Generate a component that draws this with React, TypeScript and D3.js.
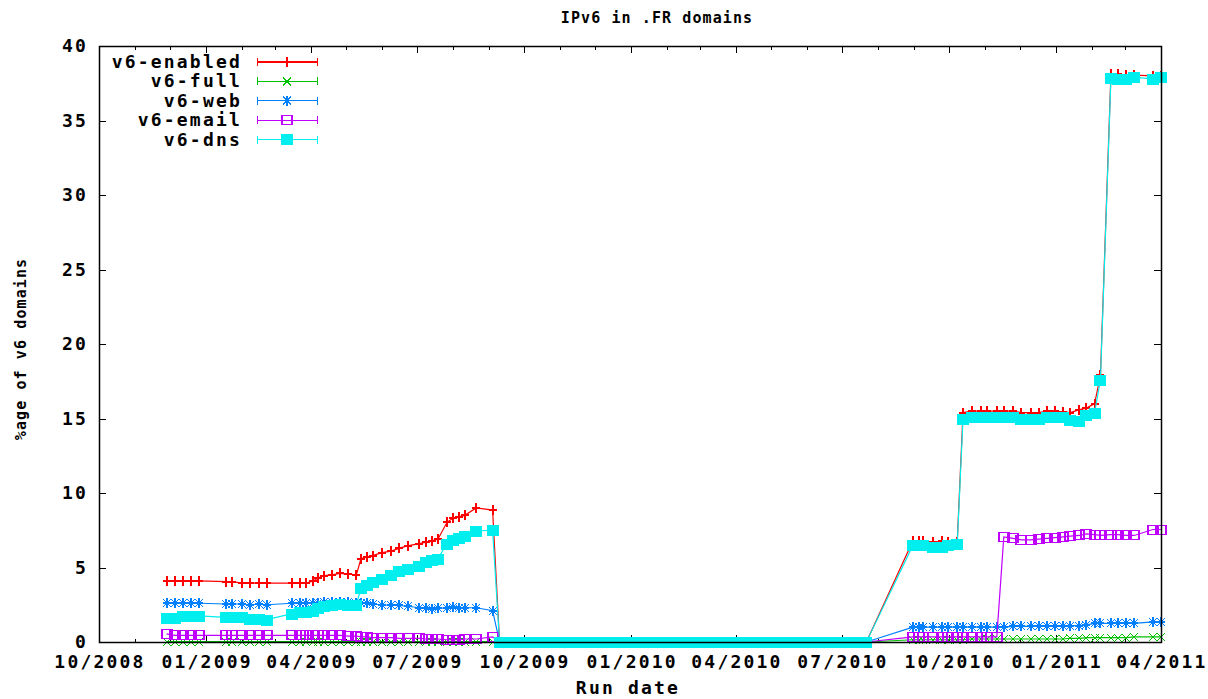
import { useEffect, useRef } from 'react';
import * as d3 from 'd3';

// run dates (one row of the data file per date)
const runDates = [
  '2008-11-28', '2008-12-05', '2008-12-12', '2008-12-19', '2008-12-26',
  '2009-01-18', '2009-01-23', '2009-02-01', '2009-02-08', '2009-02-15', '2009-02-22',
  '2009-03-16', '2009-03-23', '2009-03-28', '2009-04-03', '2009-04-07', '2009-04-12', '2009-04-19', '2009-04-26',
  '2009-05-03', '2009-05-10', '2009-05-14', '2009-05-19', '2009-05-24', '2009-06-01', '2009-06-09', '2009-06-16', '2009-06-23',
  '2009-07-03', '2009-07-09', '2009-07-14', '2009-07-19', '2009-07-27', '2009-08-01', '2009-08-06', '2009-08-11', '2009-08-21', '2009-09-04',
  // broken runs, everything at zero
  '2009-09-10', '2009-09-17', '2009-09-24', '2009-10-01', '2009-10-08', '2009-10-15', '2009-10-22', '2009-10-29',
  '2009-11-05', '2009-11-12', '2009-11-19', '2009-11-26', '2009-12-03', '2009-12-10', '2009-12-17', '2009-12-24', '2009-12-31',
  '2010-01-07', '2010-01-14', '2010-01-21', '2010-01-28', '2010-02-04', '2010-02-11', '2010-02-18', '2010-02-25',
  '2010-03-04', '2010-03-11', '2010-03-18', '2010-03-25', '2010-04-01', '2010-04-08', '2010-04-15', '2010-04-22', '2010-04-29',
  '2010-05-06', '2010-05-13', '2010-05-20', '2010-05-27', '2010-06-03', '2010-06-10', '2010-06-17', '2010-06-24',
  '2010-07-01', '2010-07-08', '2010-07-15', '2010-07-22',
  // second period
  '2010-08-31', '2010-09-05', '2010-09-09', '2010-09-17', '2010-09-25', '2010-09-30', '2010-10-08',
  '2010-10-13', '2010-10-21', '2010-10-28', '2010-11-03', '2010-11-11', '2010-11-17', '2010-11-25',
  '2010-12-02', '2010-12-10', '2010-12-17', '2010-12-24', '2010-12-31',
  '2011-01-07', '2011-01-13', '2011-01-21', '2011-01-27', '2011-02-03', '2011-02-08', '2011-02-17', '2011-02-23',
  '2011-03-02', '2011-03-09', '2011-03-25', '2011-04-01',
];

const v6Enabled = [
  4.1, 4.1, 4.1, 4.1, 4.1,
  4.05, 4.05, 3.95, 3.95, 3.95, 3.95,
  3.95, 3.95, 3.95, 4.1, 4.3, 4.45, 4.5, 4.6,
  4.55, 4.5, 5.6, 5.7, 5.8, 6.0, 6.1, 6.3, 6.45,
  6.6, 6.7, 6.8, 6.9, 8.05, 8.3, 8.4, 8.5, 9.0, 8.85,
  0, 0, 0, 0, 0, 0, 0, 0,
  0, 0, 0, 0, 0, 0, 0, 0, 0,
  0, 0, 0, 0, 0, 0, 0, 0,
  0, 0, 0, 0, 0, 0, 0, 0, 0,
  0, 0, 0, 0, 0, 0, 0, 0,
  0, 0, 0, 0,
  6.8, 6.8, 6.8, 6.7, 6.75, 6.7, 6.7,
  15.4, 15.5, 15.5, 15.5, 15.5, 15.5, 15.5,
  15.4, 15.4, 15.4, 15.5, 15.5,
  15.45, 15.4, 15.6, 15.7, 16.0, 17.9, 38.1, 38.1,
  38.05, 38.05, 38.0, 38.0,
];

const v6Full = [
  0.03, 0.03, 0.03, 0.03, 0.03,
  0.03, 0.03, 0.03, 0.03, 0.03, 0.03,
  0.03, 0.03, 0.03, 0.03, 0.03, 0.03, 0.03, 0.03,
  0.03, 0.03, 0.03, 0.03, 0.03, 0.03, 0.03, 0.03, 0.03,
  0.03, 0.03, 0.03, 0.03, 0.03, 0.03, 0.03, 0.03, 0.03, 0.03,
  0, 0, 0, 0, 0, 0, 0, 0,
  0, 0, 0, 0, 0, 0, 0, 0, 0,
  0, 0, 0, 0, 0, 0, 0, 0,
  0, 0, 0, 0, 0, 0, 0, 0, 0,
  0, 0, 0, 0, 0, 0, 0, 0,
  0, 0, 0, 0,
  0.15, 0.15, 0.15, 0.15, 0.15, 0.15, 0.15,
  0.15, 0.2, 0.2, 0.2, 0.2, 0.2, 0.2,
  0.2, 0.2, 0.2, 0.2, 0.2,
  0.2, 0.25, 0.25, 0.3, 0.3, 0.3, 0.3, 0.3,
  0.3, 0.35, 0.35, 0.35,
];

const v6Web = [
  2.6, 2.6, 2.6, 2.6, 2.6,
  2.55, 2.55, 2.55, 2.5, 2.55, 2.5,
  2.6, 2.6, 2.6, 2.65, 2.65, 2.7, 2.7, 2.7,
  2.7, 2.65, 2.6, 2.6, 2.55, 2.5, 2.45, 2.45, 2.4,
  2.3, 2.25, 2.2, 2.25, 2.3, 2.35, 2.3, 2.3, 2.3, 2.1,
  0, 0, 0, 0, 0, 0, 0, 0,
  0, 0, 0, 0, 0, 0, 0, 0, 0,
  0, 0, 0, 0, 0, 0, 0, 0,
  0, 0, 0, 0, 0, 0, 0, 0, 0,
  0, 0, 0, 0, 0, 0, 0, 0,
  0, 0, 0, 0,
  1.0, 1.0, 1.0, 1.0, 1.0, 1.0, 1.0,
  1.0, 1.0, 1.0, 1.0, 1.0, 1.0, 1.05,
  1.05, 1.05, 1.05, 1.05, 1.05,
  1.1, 1.1, 1.1, 1.15, 1.25, 1.25, 1.25, 1.25,
  1.25, 1.25, 1.35, 1.35,
];

const v6Email = [
  0.55, 0.45, 0.45, 0.45, 0.45,
  0.45, 0.45, 0.45, 0.45, 0.45, 0.45,
  0.45, 0.45, 0.45, 0.45, 0.45, 0.45, 0.45, 0.45,
  0.4, 0.4, 0.35, 0.35, 0.3, 0.3, 0.3, 0.25, 0.25,
  0.25, 0.2, 0.2, 0.2, 0.15, 0.15, 0.15, 0.2, 0.2, 0.35,
  0, 0, 0, 0, 0, 0, 0, 0,
  0, 0, 0, 0, 0, 0, 0, 0, 0,
  0, 0, 0, 0, 0, 0, 0, 0,
  0, 0, 0, 0, 0, 0, 0, 0, 0,
  0, 0, 0, 0, 0, 0, 0, 0,
  0, 0, 0, 0,
  0.35, 0.35, 0.35, 0.35, 0.35, 0.35, 0.35,
  0.35, 0.35, 0.35, 0.35, 0.35, 7.05, 6.95,
  6.85, 6.85, 6.9, 6.95, 7.0,
  7.05, 7.1, 7.15, 7.25, 7.2, 7.15, 7.2, 7.2,
  7.15, 7.15, 7.55, 7.55,
];

const v6Dns = [
  1.6, 1.6, 1.75, 1.75, 1.75,
  1.65, 1.65, 1.65, 1.55, 1.55, 1.5,
  1.9, 2.0, 2.0, 2.1, 2.25, 2.4, 2.5, 2.55,
  2.5, 2.5, 3.6, 3.8, 4.0, 4.2, 4.5, 4.75, 4.9,
  5.1, 5.35, 5.5, 5.6, 6.6, 6.85, 7.0, 7.1, 7.45, 7.5,
  0, 0, 0, 0, 0, 0, 0, 0,
  0, 0, 0, 0, 0, 0, 0, 0, 0,
  0, 0, 0, 0, 0, 0, 0, 0,
  0, 0, 0, 0, 0, 0, 0, 0, 0,
  0, 0, 0, 0, 0, 0, 0, 0,
  0, 0, 0, 0,
  6.5, 6.5, 6.5, 6.35, 6.4, 6.5, 6.55,
  15.0, 15.1, 15.1, 15.1, 15.1, 15.1, 15.1,
  14.95, 14.95, 15.0, 15.1, 15.1,
  15.1, 14.9, 14.85, 15.25, 15.4, 17.6, 37.85, 37.8,
  37.8, 37.9, 37.8, 37.9,
];

const seriesNames = ['v6-enabled', 'v6-full', 'v6-web', 'v6-email', 'v6-dns'];
const seriesColors = ['#ff0000', '#00c000', '#0080ff', '#c000ff', '#00eeee'];
const markerKinds = ['plus', 'cross', 'star', 'box', 'fbox'];
const yTicks = [0, 5, 10, 15, 20, 25, 30, 35, 40];

// gnuplot-ish point glyphs
function markerPath(kind: string) {
  const plus = 'M-4,0H4M0,-5V5';
  const cross = 'M-4,-4L4,4M-4,4L4,-4';
  if (kind === 'plus') return plus;
  if (kind === 'cross') return cross;
  if (kind === 'star') return plus + cross;
  if (kind === 'box') return 'M-5,-4.5H5V4.5H-5Z';
  return 'M-6,-5.5H6V5.5H-6Z';
}

export default function App() {
  const svgRef = useRef<SVGSVGElement>(null);

  useEffect(() => {
    if (!svgRef.current) return;
    const svg = d3.select(svgRef.current);
    svg.selectAll('*').remove();

    const left = 99, right = 1161, top = 46, bottom = 642;
    const font = "'DejaVu Sans Mono', monospace";
    const parse = d3.timeParse('%Y-%m-%d');
    const dates = runDates.map(d => parse(d)!);
    const x = d3.scaleTime().domain([parse('2008-10-01')!, parse('2011-04-01')!]).range([left, right]);
    const y = d3.scaleLinear().domain([0, 40]).range([bottom, top]);

    svg.append('rect').attr('width', 1208).attr('height', 699).attr('fill', '#fff');

    // ticks (inward, mirrored)
    const tk = svg.append('g').attr('stroke', '#000').attr('stroke-width', 1).attr('shape-rendering', 'crispEdges');
    const minor = d3.timeMonth.range(x.domain()[0], d3.timeDay.offset(x.domain()[1], 1));
    const major = x.ticks(d3.timeMonth.every(3)!);
    minor.forEach(d => {
      const px = Math.round(x(d)) + 0.5;
      tk.append('line').attr('x1', px).attr('x2', px).attr('y1', bottom).attr('y2', bottom - 3.5);
      tk.append('line').attr('x1', px).attr('x2', px).attr('y1', top).attr('y2', top + 3.5);
    });
    major.forEach(d => {
      const px = Math.round(x(d)) + 0.5;
      tk.append('line').attr('x1', px).attr('x2', px).attr('y1', bottom).attr('y2', bottom - 7);
      tk.append('line').attr('x1', px).attr('x2', px).attr('y1', top).attr('y2', top + 7);
    });
    yTicks.forEach(v => {
      const py = Math.round(y(v)) + 0.5;
      tk.append('line').attr('x1', left).attr('x2', left + 7).attr('y1', py).attr('y2', py);
      tk.append('line').attr('x1', right).attr('x2', right - 7).attr('y1', py).attr('y2', py);
    });

    // tick labels
    const fmt = d3.timeFormat('%m/%Y');
    svg.append('g').selectAll('text').data(major).enter().append('text')
      .attr('x', d => x(d) + 1).attr('y', 668)
      .attr('text-anchor', 'middle').attr('font-family', font).attr('font-weight', 'bold')
      .attr('font-size', '18px').attr('letter-spacing', '2.2px').attr('fill', '#000')
      .text(d => fmt(d));
    svg.append('g').selectAll('text').data(yTicks).enter().append('text')
      .attr('x', 88).attr('y', d => y(d) + 6)
      .attr('text-anchor', 'end').attr('font-family', font).attr('font-weight', 'bold')
      .attr('font-size', '18px').attr('letter-spacing', '2.2px').attr('fill', '#000')
      .text(d => d);

    // titles
    svg.append('text').attr('x', 657).attr('y', 23).attr('text-anchor', 'middle')
      .attr('font-family', font).attr('font-weight', 'bold').attr('font-size', '15px').attr('letter-spacing', '1.1px')
      .attr('fill', '#000').text('IPv6 in .FR domains');
    svg.append('text').attr('x', 628).attr('y', 694).attr('text-anchor', 'middle')
      .attr('font-family', font).attr('font-weight', 'bold').attr('font-size', '18px').attr('letter-spacing', '2.2px')
      .attr('fill', '#000').text('Run date');
    svg.append('text').attr('transform', 'translate(26,349) rotate(-90)').attr('text-anchor', 'middle')
      .attr('font-family', font).attr('font-weight', 'bold').attr('font-size', '15px').attr('letter-spacing', '1.1px')
      .attr('fill', '#000').text('%age of v6 domains');

    // series, drawn in file order so v6-dns ends up on top
    const allSeries = [v6Enabled, v6Full, v6Web, v6Email, v6Dns];
    const line = d3.line<[number, number]>();
    allSeries.forEach((vals, i) => {
      const pts = vals.map((v, j) => [x(dates[j]), y(v)] as [number, number]);
      const g = svg.append('g');
      g.append('path').attr('d', line(pts)!).attr('fill', 'none')
        .attr('stroke', seriesColors[i]).attr('stroke-width', 1.2);
      const filled = markerKinds[i] === 'fbox';
      g.selectAll('path.pt').data(pts).enter().append('path').attr('class', 'pt')
        .attr('transform', p => `translate(${Math.round(p[0])},${Math.round(p[1])})`)
        .attr('d', markerPath(markerKinds[i]))
        .attr('fill', filled ? seriesColors[i] : 'none')
        .attr('stroke', filled ? 'none' : seriesColors[i]).attr('stroke-width', 1.2)
        .attr('shape-rendering', 'crispEdges');
    });

    // border
    svg.append('rect').attr('x', left + 0.5).attr('y', top + 0.5)
      .attr('width', right - left).attr('height', bottom - top)
      .attr('fill', 'none').attr('stroke', '#000').attr('stroke-width', 1.5);

    // legend
    const lg = svg.append('g');
    seriesNames.forEach((name, i) => {
      const ly = 62 + i * 19.4;
      lg.append('text').attr('x', 242).attr('y', ly + 6).attr('text-anchor', 'end')
        .attr('font-family', font).attr('font-weight', 'bold').attr('font-size', '18px').attr('letter-spacing', '2.2px')
        .attr('fill', '#000').text(name);
      const c = seriesColors[i];
      lg.append('path').attr('d', `M257,${ly}H317M257.5,${ly - 4}V${ly + 4}M317.5,${ly - 4}V${ly + 4}`)
        .attr('stroke', c).attr('stroke-width', 1.2).attr('fill', 'none').attr('shape-rendering', 'crispEdges');
      const filled = markerKinds[i] === 'fbox';
      lg.append('path').attr('transform', `translate(287,${ly})`).attr('d', markerPath(markerKinds[i]))
        .attr('fill', filled ? c : 'none').attr('stroke', filled ? 'none' : c).attr('stroke-width', 1.2)
        .attr('shape-rendering', 'crispEdges');
    });
  }, []);

  return (
    <>
      <style>{'body{margin:0}'}</style>
      <svg ref={svgRef} width={1208} height={699} style={{ display: 'block' }} />
    </>
  );
}
